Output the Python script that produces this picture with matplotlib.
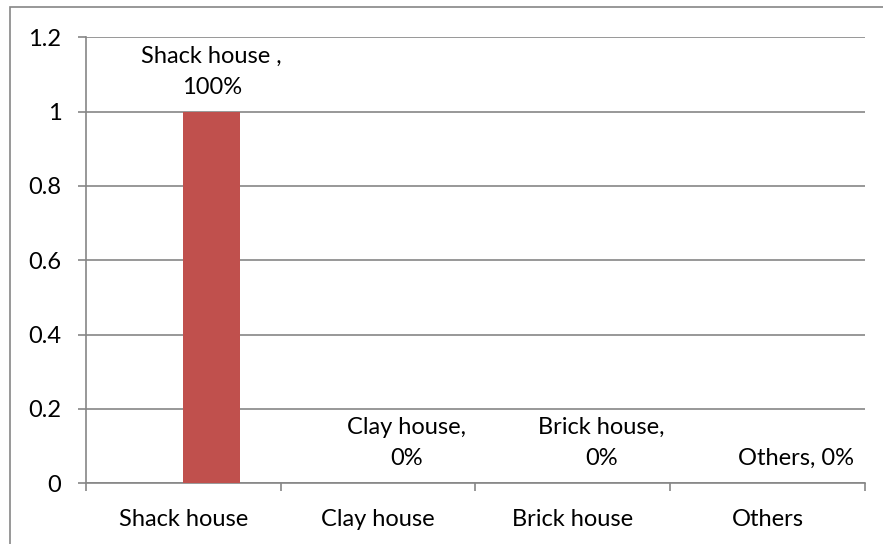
import matplotlib
matplotlib.use('Agg')
import matplotlib.pyplot as plt
from matplotlib.patches import Rectangle

categories = ['Shack house', 'Clay house', 'Brick house', 'Others']
values = [1.0, 0.0, 0.0, 0.0]
point_labels = ['Shack house ,\n100%', 'Clay house,\n0%', 'Brick house,\n0%', 'Others, 0%']

plt.rcParams['font.family'] = ['Lato', 'DejaVu Sans']
grid_col = '#868686'
bar_w = 0.29

fig = plt.figure(figsize=(8.83, 5.44), dpi=100)
ax = fig.add_axes([0.0974, 0.1121, 0.9796 - 0.0974, 0.9311 - 0.1121])

x = list(range(len(categories)))
bars = ax.bar(x, values, width=bar_w, align='edge', color='#C0504D', zorder=3)

for b, lab in zip(bars, point_labels):
    ax.annotate(lab, (b.get_x() + b.get_width() / 2, b.get_height()),
                xytext=(0, 10), textcoords='offset points',
                ha='center', va='bottom', fontsize=17, linespacing=1.6)

ax.set_xlim(-0.5, len(categories) - 0.5)
ax.set_ylim(0, 1.2)
ax.set_yticks([0, 0.2, 0.4, 0.6, 0.8, 1.0, 1.2])
ax.set_yticklabels(['0', '0.2', '0.4', '0.6', '0.8', '1', '1.2'])
ax.set_xticks(x)
ax.set_xticklabels(categories)
ax.set_xticks([i - 0.5 for i in range(len(categories) + 1)], minor=True)
ax.tick_params(axis='x', which='major', length=0, pad=19, labelsize=17)
ax.tick_params(axis='x', which='minor', length=5.8, color=grid_col, width=1.2)
ax.tick_params(axis='y', length=5.8, color=grid_col, width=1.2, labelsize=17, pad=12)

ax.grid(axis='y', color=grid_col, linewidth=1.2, zorder=0)
for side in ['top', 'right']:
    ax.spines[side].set_visible(False)
for side in ['left', 'bottom']:
    ax.spines[side].set_color(grid_col)
    ax.spines[side].set_linewidth(1.2)

# outer chart border, running past the right and bottom edges
fig.patches.append(Rectangle((10 / 883, -0.05), 1.0, 1.05 - 7 / 544,
                             transform=fig.transFigure, fill=False,
                             edgecolor=grid_col, linewidth=1.2))

fig.savefig('out.png', dpi=100)
